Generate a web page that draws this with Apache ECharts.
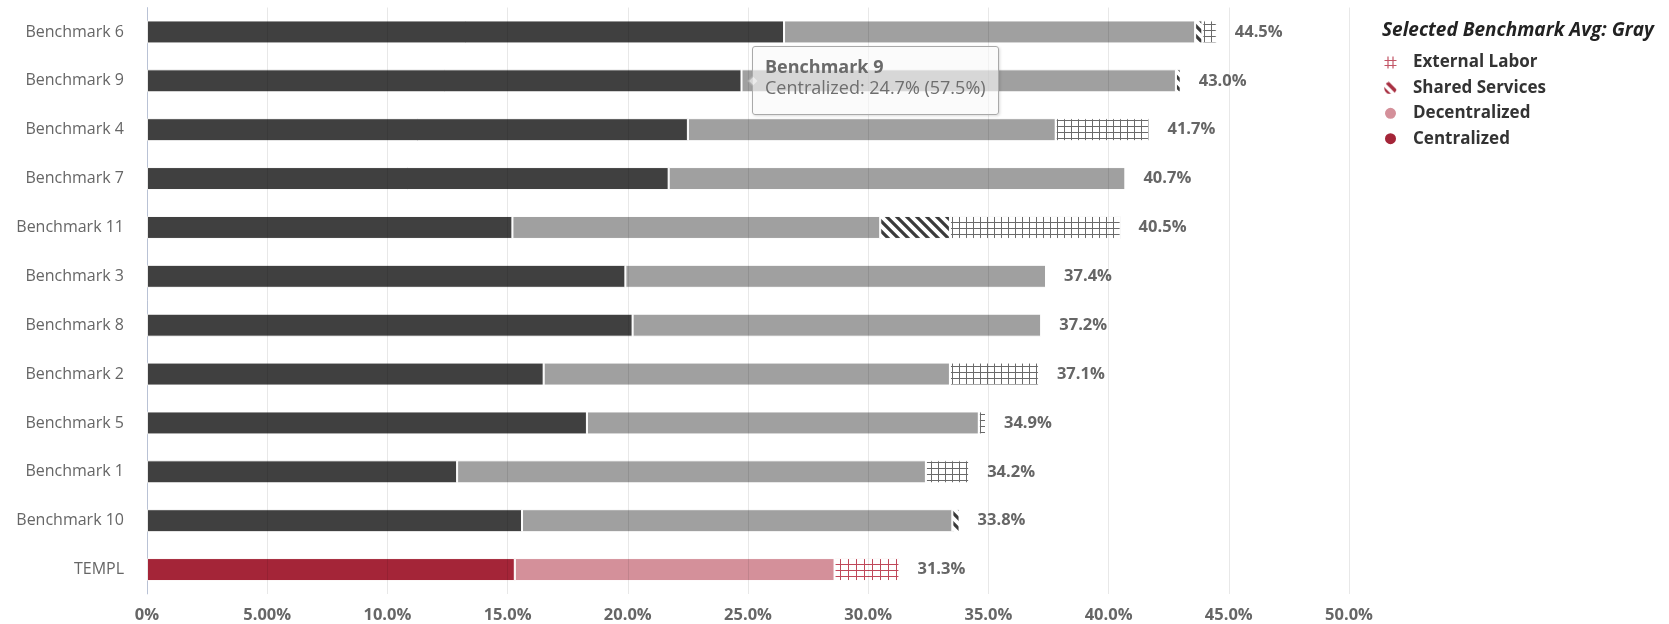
<!DOCTYPE html>
<html>
<head>
<meta charset="utf-8">
<script src="https://cdn.jsdelivr.net/npm/echarts@6/dist/echarts.min.js"></script>
<style>
  html, body { margin: 0; padding: 0; background: #ffffff; }
  #chart { width: 1669px; height: 624px; }
</style>
</head>
<body>
<div id="chart"></div>
<script>
// Cost share by organisational model, % of total
const categories = ['Benchmark 6', 'Benchmark 9', 'Benchmark 4', 'Benchmark 7', 'Benchmark 11', 'Benchmark 3',
  'Benchmark 8', 'Benchmark 2', 'Benchmark 5', 'Benchmark 1', 'Benchmark 10', 'TEMPL'];
const centralized    = [26.5, 24.73, 22.5, 21.7, 15.2, 19.9, 20.2, 16.5, 18.3, 12.9, 15.6, 15.3];
const decentralized  = [17.1, 18.07, 15.3, 19.0, 15.3, 17.5, 17.0, 16.9, 16.3, 19.5, 17.9, 13.3];
const sharedServices = [0.3, 0.2, 0, 0, 2.9, 0, 0, 0, 0, 0, 0.3, 0];
const externalLabor  = [0.6, 0, 3.9, 0, 7.1, 0, 0, 3.7, 0.3, 1.8, 0, 2.7];
const xTickLabels = ['0%', '5.00%', '10.0%', '15.0%', '20.0%', '25.0%', '30.0%', '35.0%', '40.0%', '45.0%', '50.0%'];

const FONT = '"Open Sans", "Noto Sans", sans-serif';
const ownName = 'TEMPL';
const ownIndex = categories.indexOf(ownName);
const totals = categories.map((_, i) => centralized[i] + decentralized[i] + sharedServices[i] + externalLabor[i]);

// Fill patterns
function stripeCanvas(color) {
  const c = document.createElement('canvas');
  c.width = 10; c.height = 10;
  const g = c.getContext('2d');
  g.fillStyle = '#ffffff'; g.fillRect(0, 0, 10, 10);
  g.strokeStyle = color; g.lineWidth = 3.2;
  g.beginPath();
  g.moveTo(-2, -2); g.lineTo(12, 12);
  g.moveTo(-7, 3); g.lineTo(7, 17);
  g.moveTo(3, -7); g.lineTo(17, 7);
  g.stroke();
  return c;
}
function gridCanvas(color, w, h) {
  const c = document.createElement('canvas');
  c.width = w; c.height = h;
  const g = c.getContext('2d');
  g.fillStyle = '#ffffff'; g.fillRect(0, 0, w, h);
  g.fillStyle = color;
  g.fillRect(0, 0, 1, h);
  g.fillRect(0, 0, w, 1);
  return c;
}
const stripeGray = { image: stripeCanvas('#3a3a3a'), repeat: 'repeat' };
const stripeRed = { image: stripeCanvas('#a42538'), repeat: 'repeat' };
const gridGray = { image: gridCanvas('#6a6a6a', 7, 6), repeat: 'repeat' };
const gridRed = { image: gridCanvas('#c0485a', 8, 6), repeat: 'repeat' };

// Legend icons
function hashIcon() {
  const c = document.createElement('canvas');
  c.width = 13; c.height = 13;
  const g = c.getContext('2d');
  g.strokeStyle = '#c25566'; g.lineWidth = 1.2;
  g.beginPath();
  g.moveTo(4, 0.5); g.lineTo(4, 12.5);
  g.moveTo(9, 0.5); g.lineTo(9, 12.5);
  g.moveTo(0.5, 4.5); g.lineTo(12.5, 4.5);
  g.moveTo(0.5, 9.5); g.lineTo(12.5, 9.5);
  g.stroke();
  return c.toDataURL();
}
function stripeIcon() {
  const c = document.createElement('canvas');
  c.width = 13; c.height = 13;
  const g = c.getContext('2d');
  g.save();
  g.beginPath(); g.arc(6.5, 6.5, 6.3, 0, Math.PI * 2); g.clip();
  g.strokeStyle = '#a83042'; g.lineWidth = 3.6;
  g.beginPath();
  g.moveTo(-1, -3); g.lineTo(16, 14);
  g.moveTo(-4, 4); g.lineTo(10, 18);
  g.stroke();
  g.restore();
  return c.toDataURL();
}

function styled(values, own) {
  return values.map((v, i) => i === ownIndex ? { value: v, itemStyle: { color: own } } : v);
}

const barCommon = {
  type: 'bar',
  stack: 'cost',
  barWidth: 23,
  barGap: '-100%',
  emphasis: { disabled: true }
};

const chart = echarts.init(document.getElementById('chart'), null, { renderer: 'canvas' });
chart.setOption({
  animation: false,
  textStyle: { fontFamily: FONT },
  title: {
    text: 'Selected Benchmark Avg: Gray',
    left: 1382, top: 20, padding: 0,
    textStyle: { fontFamily: FONT, fontSize: 19, fontWeight: 'bold', fontStyle: 'italic', color: '#222222', lineHeight: 21 }
  },
  legend: {
    orient: 'vertical', left: 1383, top: 54, padding: 0,
    itemGap: 8.4, itemWidth: 13, itemHeight: 13,
    selectedMode: false,
    textStyle: { fontFamily: FONT, fontSize: 17, fontWeight: 'bold', color: '#333333', padding: [0, 0, 0, 11], lineHeight: 17 },
    data: [
      { name: 'External Labor', icon: 'image://' + hashIcon() },
      { name: 'Shared Services', icon: 'image://' + stripeIcon() },
      { name: 'Decentralized', icon: 'circle', itemStyle: { color: '#d4909a' } },
      { name: 'Centralized', icon: 'circle', itemStyle: { color: '#a42538' } }
    ]
  },
  tooltip: {
    trigger: 'item',
    triggerOn: 'none',
    alwaysShowContent: true,
    position: 'right',
    transitionDuration: 0,
    backgroundColor: 'rgba(248,248,248,0.62)',
    borderColor: '#a9a9a9',
    borderWidth: 1,
    borderRadius: 3,
    padding: [9, 12, 16, 12],
    textStyle: { fontFamily: FONT, fontSize: 18, color: '#6e6e6e' },
    extraCssText: 'box-shadow: 1px 1px 3px rgba(0,0,0,0.15); line-height: 21px;',
    formatter: p => `<b style="color:#6a6a6a">${p.name}</b><br/>${p.seriesName}: ${p.value.toFixed(1)}% (${(p.value / totals[p.dataIndex] * 100).toFixed(1)}%)`
  },
  grid: { left: 147, right: 320, top: 7.5, bottom: 28.5, containLabel: false },
  xAxis: [
    {
      type: 'value', min: 0, max: 50, interval: 5,
      axisLine: { show: false }, axisTick: { show: false },
      splitLine: { show: false },
      axisLabel: {
        margin: 13, color: '#666666', fontFamily: FONT, fontSize: 16.5, fontWeight: 'bold',
        formatter: (v) => xTickLabels[Math.round(v / 5)]
      }
    },
    {
      // grid lines painted above the bars
      type: 'value', min: 0, max: 50, interval: 5, position: 'bottom', z: 5,
      axisLine: { show: false }, axisTick: { show: false }, axisLabel: { show: false },
      splitLine: { show: true, lineStyle: { color: 'rgba(0,0,0,0.09)', width: 1 } }
    }
  ],
  yAxis: {
    type: 'category', data: categories, inverse: true,
    axisLine: { show: true, lineStyle: { color: '#ccd6eb', width: 1 } },
    axisTick: { show: false },
    axisLabel: { margin: 23, color: '#666666', fontFamily: FONT, fontSize: 16 }
  },
  series: [
    Object.assign({}, barCommon, {
      name: 'Centralized',
      data: styled(centralized, '#a42538'),
      itemStyle: { color: '#404040', borderColor: '#ffffff', borderWidth: 1 }
    }),
    Object.assign({}, barCommon, {
      name: 'Decentralized',
      data: styled(decentralized, '#d4909a'),
      itemStyle: { color: '#a0a0a0', borderColor: '#ffffff', borderWidth: 1 }
    }),
    Object.assign({}, barCommon, {
      name: 'Shared Services',
      data: styled(sharedServices, stripeRed),
      itemStyle: { color: stripeGray, borderColor: '#ffffff', borderWidth: 1 }
    }),
    Object.assign({}, barCommon, {
      name: 'External Labor',
      data: styled(externalLabor, gridRed),
      itemStyle: { color: gridGray, borderColor: '#ffffff', borderWidth: 1 }
    }),
    {
      // invisible bar carrying the total label
      name: 'Total', type: 'bar', barWidth: 23, barGap: '-100%', silent: true, z: 1,
      data: totals,
      itemStyle: { color: 'rgba(0,0,0,0)' },
      tooltip: { show: false },
      label: {
        show: true, position: 'right', distance: 18,
        color: '#666666', fontFamily: FONT, fontSize: 16.5, fontWeight: 'bold',
        formatter: p => p.value.toFixed(1) + '%'
      }
    }
  ]
});

chart.dispatchAction({ type: 'showTip', seriesIndex: 0, dataIndex: categories.indexOf('Benchmark 9') });
</script>
</body>
</html>
